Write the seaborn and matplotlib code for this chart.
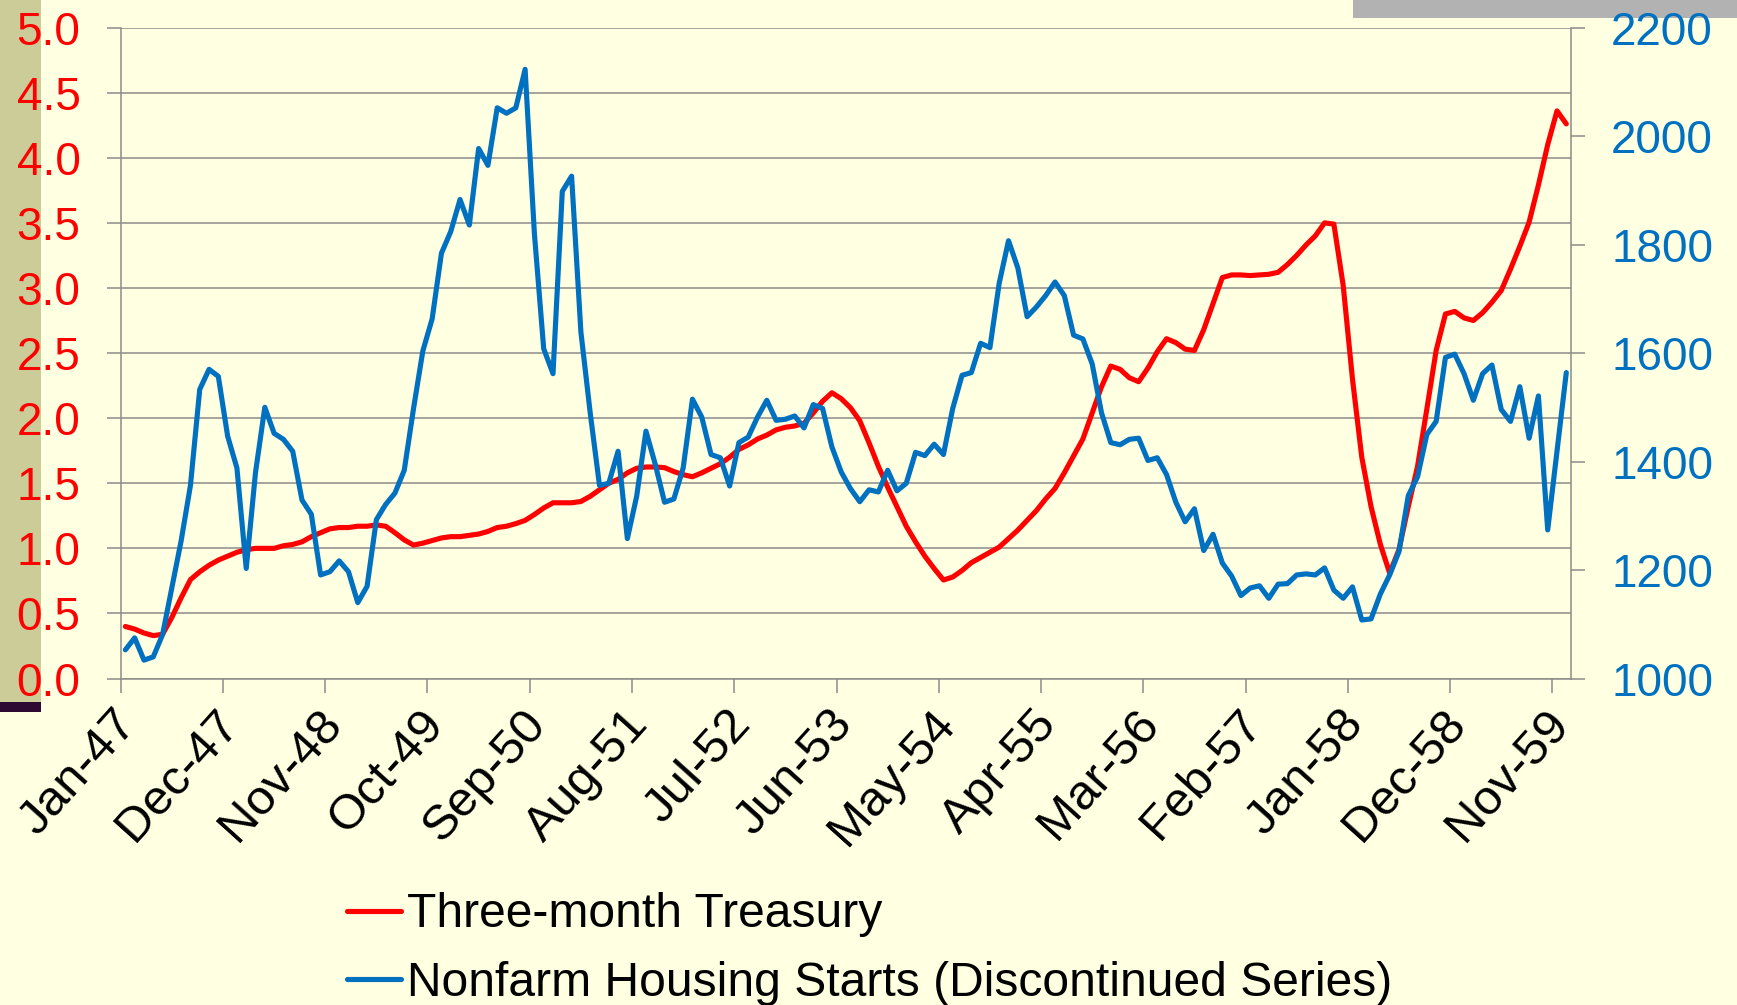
import numpy as np
import pandas as pd
import matplotlib
matplotlib.use("Agg")
import matplotlib.pyplot as plt
from matplotlib.patches import Rectangle
from matplotlib.transforms import ScaledTranslation
import seaborn as sns

# --- Data (monthly, Jan-1947 .. Dec-1959) ---
treasury = [
    0.40, 0.38, 0.35, 0.33, 0.34, 0.47, 0.62, 0.76, 0.82, 0.87,
    0.91, 0.94, 0.97, 0.99, 1.00, 1.00, 1.00, 1.02, 1.03, 1.05,
    1.09, 1.12, 1.15, 1.16, 1.16, 1.17, 1.17, 1.18, 1.17, 1.12,
    1.065, 1.025, 1.04, 1.06, 1.08, 1.09, 1.09, 1.10, 1.11, 1.13,
    1.16, 1.17, 1.19, 1.215, 1.26, 1.31, 1.35, 1.35, 1.35, 1.36,
    1.40, 1.45, 1.50, 1.53, 1.58, 1.615, 1.625, 1.625, 1.62, 1.59,
    1.566, 1.55, 1.58, 1.615, 1.65, 1.70, 1.76, 1.795, 1.84, 1.87,
    1.91, 1.93, 1.94, 1.96, 2.04, 2.13, 2.195, 2.15, 2.08, 1.98,
    1.81, 1.63, 1.47, 1.32, 1.17, 1.05, 0.94, 0.845, 0.757, 0.78,
    0.83, 0.89, 0.93, 0.97, 1.01, 1.075, 1.14, 1.215, 1.29, 1.38,
    1.46, 1.58, 1.71, 1.84, 2.04, 2.24, 2.40, 2.375, 2.31, 2.28,
    2.385, 2.51, 2.61, 2.58, 2.53, 2.52, 2.68, 2.88, 3.08, 3.10,
    3.10, 3.095, 3.10, 3.105, 3.12, 3.18, 3.25, 3.33, 3.40, 3.50,
    3.49, 3.02, 2.30, 1.70, 1.32, 1.03, 0.81, 0.99, 1.32, 1.63,
    2.07, 2.52, 2.80, 2.82, 2.77, 2.75, 2.81, 2.89, 2.98, 3.145,
    3.32, 3.505, 3.79, 4.10, 4.36, 4.26,
]
housing = [
    1053, 1075, 1034, 1040, 1081, 1167, 1254, 1356, 1533, 1570,
    1557, 1447, 1388, 1203, 1380, 1500, 1452, 1441, 1419, 1329,
    1303, 1191, 1197, 1217, 1197, 1140, 1170, 1293, 1321, 1342,
    1384, 1498, 1604, 1663, 1784, 1824, 1883, 1836, 1977, 1946,
    2052, 2042, 2052, 2123, 1820, 1608, 1562, 1898, 1926, 1639,
    1490, 1356, 1360, 1419, 1258, 1336, 1456, 1395, 1325, 1331,
    1388, 1515, 1482, 1413, 1407, 1355, 1435, 1445, 1482, 1513,
    1476, 1478, 1484, 1462, 1505, 1498, 1427, 1381, 1350, 1326,
    1348, 1344, 1384, 1346, 1360, 1417, 1411, 1432, 1413, 1498,
    1559, 1564, 1618, 1610, 1729, 1807, 1757, 1667, 1685, 1706,
    1731, 1706, 1633, 1626, 1580, 1490, 1435, 1431, 1441, 1443,
    1402, 1407, 1376, 1325, 1289, 1313, 1236, 1266, 1213, 1189,
    1153, 1167, 1171, 1148, 1174, 1175, 1191, 1193, 1191, 1204,
    1163, 1148, 1169, 1108, 1110, 1156, 1191, 1234, 1337, 1372,
    1450, 1474, 1592, 1598, 1562, 1513, 1562, 1578, 1496, 1474,
    1538, 1443, 1521, 1274, 1419, 1564,
]
months = pd.date_range("1947-01-01", periods=len(treasury), freq="MS")
left_ticks = [0.0, 0.5, 1.0, 1.5, 2.0, 2.5, 3.0, 3.5, 4.0, 4.5, 5.0]
right_ticks = [1000, 1200, 1400, 1600, 1800, 2000, 2200]
label_every = 11

# --- Colours ---
BG = "#FFFFE1"
RED = "#FF0000"
BLUE = "#0070C0"
GRID = "#8C8C8C"
LW = 3.7

sns.set_style("white")
plt.rcParams["font.family"] = ["Liberation Sans", "DejaVu Sans"]
plt.rcParams["text.color"] = "black"

df = pd.DataFrame({
    "pos": np.arange(len(months)) + 0.5,  # Excel-style: points between tick marks
    "treasury": treasury,
    "housing": housing,
})

fig = plt.figure(figsize=(17.37, 10.05), dpi=100, facecolor=BG)
ax = fig.add_axes([0.0695, 0.3248, 0.8349, 0.6478])
ax.set_facecolor(BG)
ax2 = ax.twinx()

sns.lineplot(data=df, x="pos", y="treasury", ax=ax, color=RED,
             label="Three-month Treasury", legend=False)
sns.lineplot(data=df, x="pos", y="housing", ax=ax2, color=BLUE,
             label="Nonfarm Housing Starts (Discontinued Series)", legend=False)
for line in ax.get_lines() + ax2.get_lines():
    line.set_linewidth(LW)
    line.set_solid_joinstyle("round")

ax.set_xlim(0, len(months))
ax.set_ylim(0, 5)
ax.set_yticks(left_ticks)
ax.set_yticklabels([f"{v:.1f}" for v in left_ticks])
ax2.set_ylim(1000, 2200)
ax2.set_yticks(right_ticks)
ax2.set_yticklabels([str(v) for v in right_ticks])

tick_idx = np.arange(0, len(months), label_every)
ax.set_xticks(tick_idx)
ax.set_xticklabels(months[tick_idx].strftime("%b-%y"))

for a in (ax, ax2):
    a.set_xlabel("")
    a.set_ylabel("")

ax.grid(axis="y", color=GRID, linewidth=1.1)
ax.grid(axis="x", visible=False)
ax.spines["top"].set_visible(False)
ax.spines["right"].set_visible(False)
for s in ("left", "bottom"):
    ax.spines[s].set_color(GRID)
    ax.spines[s].set_linewidth(1.1)
for s in ("top", "left", "bottom"):
    ax2.spines[s].set_visible(False)
ax2.spines["right"].set_color(GRID)
ax2.spines["right"].set_linewidth(1.1)

ax.tick_params(axis="y", direction="out", length=10, width=1.1, color=GRID,
               labelcolor=RED, labelsize=33, pad=19, left=True)
ax.tick_params(axis="x", direction="out", length=10, width=1.1, color=GRID,
               labelcolor="black", labelsize=35.5, pad=17.5, bottom=True)
ax2.tick_params(axis="y", direction="out", length=10, width=1.1, color=GRID,
                labelcolor=BLUE, labelsize=33, pad=19, right=True)

# rotated date labels, nudged right (after tick_params, which resets transforms)
shift = ScaledTranslation(6 / 72, 0, fig.dpi_scale_trans)
for lab in ax.get_xticklabels():
    lab.set_rotation(48)
    lab.set_ha("right")
    lab.set_va("center")
    lab.set_rotation_mode("anchor")
    lab.set_transform(lab.get_transform() + shift)

# legend below the chart
handles = ax.get_lines()[:1] + ax2.get_lines()[:1]
labels = [h.get_label() for h in handles]
leg = fig.legend(handles, labels, loc="upper left", bbox_to_anchor=(0.1998, 0.112),
                 frameon=False, fontsize=34.6, handlelength=1.12, handletextpad=0.12,
                 labelspacing=0.48, borderpad=0, borderaxespad=0)
for h in leg.get_lines():
    h.set_linewidth(3.7)
for t in leg.get_texts():
    t.set_color("black")

# slide decorations
fig.patches.append(Rectangle((0, 1 - 702 / 1005), 41 / 1737, 702 / 1005,
                             transform=fig.transFigure, facecolor="#CCCC99",
                             edgecolor="none", zorder=-1))
fig.patches.append(Rectangle((0, 1 - 712 / 1005), 41 / 1737, 10 / 1005,
                             transform=fig.transFigure, facecolor="#2E0A33",
                             edgecolor="none", zorder=-1))
fig.patches.append(Rectangle((1353 / 1737, 1 - 18 / 1005), 384 / 1737, 18 / 1005,
                             transform=fig.transFigure, facecolor="#B2B2B2",
                             edgecolor="none", zorder=-1))

fig.savefig("out.png", dpi=100, facecolor=BG)
